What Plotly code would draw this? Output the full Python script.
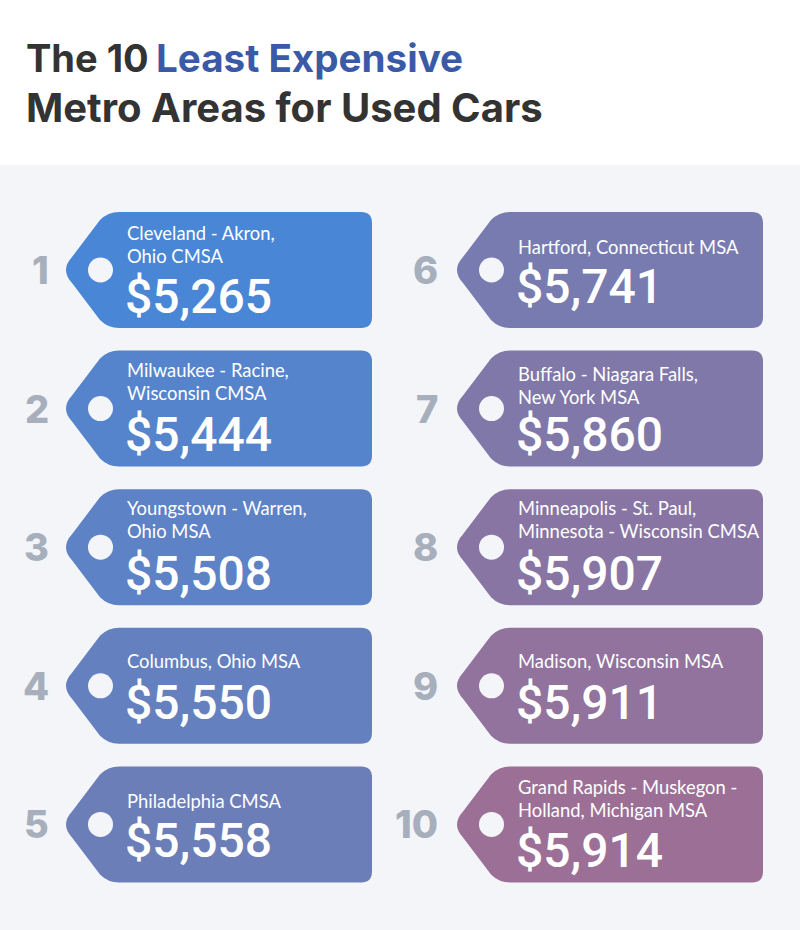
import plotly.graph_objects as go

ranks = ["1", "2", "3", "4", "5", "6", "7", "8", "9", "10"]
metros = [
    ["Cleveland - Akron,", "Ohio CMSA"],
    ["Milwaukee - Racine,", "Wisconsin CMSA"],
    ["Youngstown - Warren,", "Ohio MSA"],
    ["Columbus, Ohio MSA"],
    ["Philadelphia CMSA"],
    ["Hartford, Connecticut MSA"],
    ["Buffalo - Niagara Falls,", "New York MSA"],
    ["Minneapolis - St. Paul,", "Minnesota - Wisconsin CMSA"],
    ["Madison, Wisconsin MSA"],
    ["Grand Rapids - Muskegon -", "Holland, Michigan MSA"],
]
prices = [5265, 5444, 5508, 5550, 5558, 5741, 5860, 5907, 5911, 5914]
tag_colors = [
    "#4a86d6", "#5684cc", "#5d82c6", "#6580bf", "#6c7eb8",
    "#777bb0", "#8078a9", "#8875a4", "#91739d", "#9c7096",
]

# first line of the metro name, px below the top of each tag
name_offsets = [21, 19, 19, 33, 35, 35, 23, 19, 33, 21]

BG = "#f3f5f9"
TAG_W, TAG_H = 306, 116


def tag_path(x, y):
    # price tag outline, point on the left, rounded corners
    r = x + TAG_W
    b = y + TAG_H
    m = y + TAG_H / 2
    return (
        f"M {x+53} {y} L {r-11} {y} Q {r} {y} {r} {y+11} "
        f"L {r} {b-11} Q {r} {b} {r-11} {b} L {x+53} {b} "
        f"Q {x+42} {b} {x+34} {b-8} L {x+6} {m+13} "
        f"Q {x-6} {m} {x+6} {m-13} L {x+34} {y+8} Q {x+42} {y} {x+53} {y} Z"
    )


fig = go.Figure()
# invisible trace so the pixel axes are drawn by the library
fig.add_trace(go.Scatter(x=[0, 800], y=[0, 930], mode="markers", marker_opacity=0,
                         hoverinfo="skip", showlegend=False))

shapes = [dict(type="rect", x0=0, x1=800, y0=165, y1=930, fillcolor=BG, line_width=0, layer="below")]
annotations = []

for i, rank in enumerate(ranks):
    col = i // 5
    row = i % 5
    x0 = 66 + 391 * col
    y0 = 212 + 138.6 * row
    mid = y0 + TAG_H / 2

    shapes.append(dict(type="path", path=tag_path(x0, y0), fillcolor=tag_colors[i], line_width=0, layer="below"))
    shapes.append(dict(type="circle", x0=x0 + 22, x1=x0 + 47, y0=mid - 12.5, y1=mid + 12.5,
                       fillcolor=BG, line_width=0, layer="below"))

    annotations.append(dict(x=x0 - (15 if col == 0 else 17), y=mid, text=rank, showarrow=False,
                            xanchor="right", yanchor="middle",
                            font=dict(family="Inter", size=38, weight=800, color="#a7afbc")))
    for j, line in enumerate(metros[i]):
        annotations.append(dict(x=x0 + 59, y=y0 + name_offsets[i] + 23 * j, text=line, showarrow=False,
                                xanchor="left", yanchor="middle",
                                font=dict(family="Lato", size=18.4, color="white")))
    annotations.append(dict(x=x0 + 57, y=y0 + (84 if len(metros[i]) == 2 else 74.5), text=f"${prices[i]:,}",
                            showarrow=False, xanchor="left", yanchor="middle",
                            font=dict(family="Roboto", size=48, weight=500, color="white")))

annotations.append(dict(x=24, y=58, text="The 10", showarrow=False, xanchor="left", yanchor="middle",
                        font=dict(family="Inter", size=38, weight=700, color="#333333")))
annotations.append(dict(x=154, y=58, text="Least Expensive", showarrow=False, xanchor="left", yanchor="middle",
                        font=dict(family="Inter", size=38.6, weight=700, color="#3a5aa8")))
annotations.append(dict(x=24, y=107, text="Metro Areas for Used Cars", showarrow=False,
                        xanchor="left", yanchor="middle",
                        font=dict(family="Inter", size=40, weight=700, color="#333333")))

fig.update_layout(
    width=800, height=930,
    margin=dict(l=0, r=0, t=0, b=0),
    paper_bgcolor="white", plot_bgcolor="white",
    showlegend=False,
    shapes=shapes,
    annotations=annotations,
)
fig.update_xaxes(range=[0, 800], visible=False, fixedrange=True)
fig.update_yaxes(range=[930, 0], visible=False, fixedrange=True)

fig.write_html("out.html", config={"displayModeBar": False},
               post_script="document.body.style.margin='0';document.documentElement.style.overflow='hidden';")
